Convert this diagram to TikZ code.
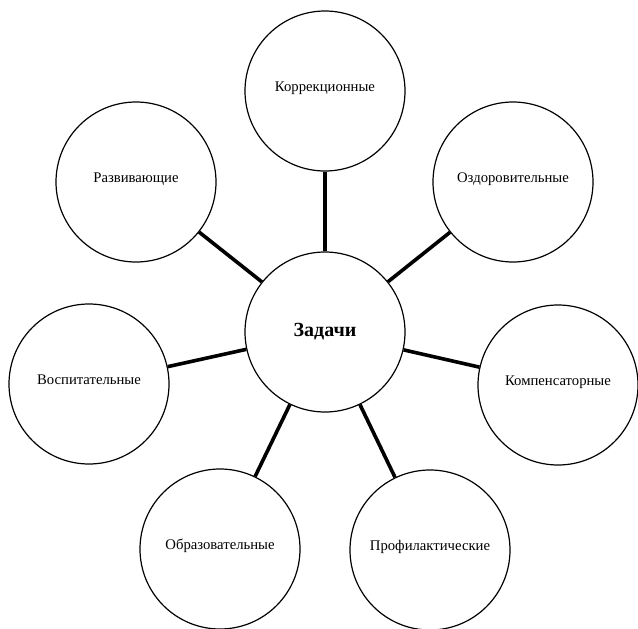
\documentclass[tikz,border=0pt]{standalone}
\usepackage{fontspec}
\setmainfont{Liberation Serif}
\begin{document}
\begin{tikzpicture}[x=1pt,y=1pt,
  goal/.style={circle,draw,line width=1.2pt,minimum size=160pt,inner sep=0pt,
    font=\fontsize{14.7}{17}\selectfont,text height=8pt,text depth=7pt},
  hub/.style={goal,font=\fontsize{20}{22}\selectfont\bfseries,text height=10pt,text depth=1pt},
  link/.style={line width=3.6pt}]
\useasboundingbox (0,0) rectangle (638,-629);
% central circle
\node[hub] (z) at (325,-332) {Задачи};
% task circles around it
\node[goal] (korr) at (325,-91)  {Коррекционные};
\node[goal] (ozd)  at (513,-182) {Оздоровительные};
\node[goal] (komp) at (558,-385) {Компенсаторные};
\node[goal] (prof) at (430,-550) {Профилактические};
\node[goal] (obr)  at (220,-549) {Образовательные};
\node[goal] (vosp) at (89,-384)  {Воспитательные};
\node[goal] (razv) at (136,-182) {Развивающие};
% spokes
\foreach \n in {korr,ozd,komp,prof,obr,vosp,razv}
  \draw[link] (z) -- (\n);
\end{tikzpicture}
\end{document}
